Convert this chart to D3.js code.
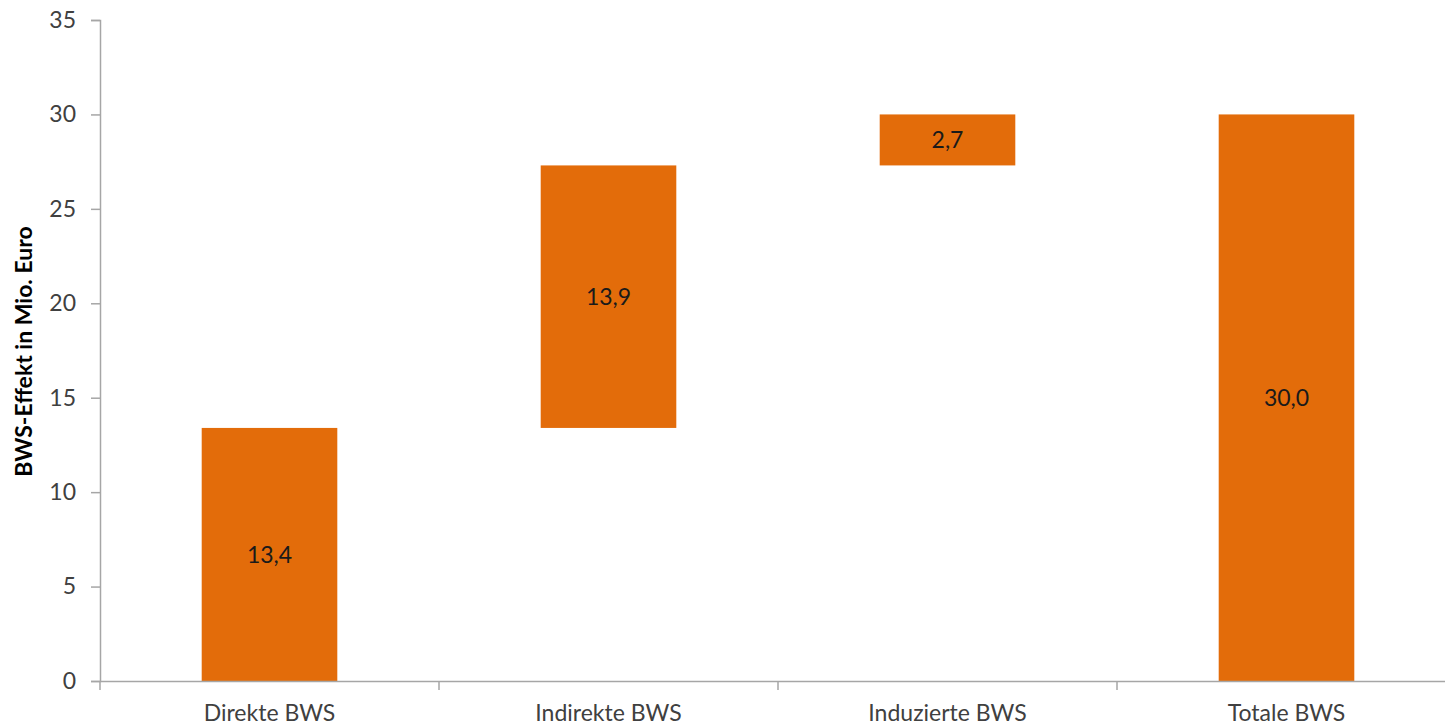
<!DOCTYPE html>
<html>
<head>
<meta charset="utf-8">
<script src="https://cdn.jsdelivr.net/npm/d3@7"></script>
<style>
  body { margin: 0; background: #fff; }
  svg { display: block; font-family: Lato, "Open Sans", sans-serif; }
</style>
</head>
<body>
<svg width="1445" height="728"></svg>
<script>
"use strict";

// waterfall data
var categories = ["Direkte BWS", "Indirekte BWS", "Induzierte BWS", "Totale BWS"];
var values = [13.4, 13.9, 2.7, 30.0];
var isTotal = [false, false, false, true];
var yTicks = [0, 5, 10, 15, 20, 25, 30, 35];
var yTitle = "BWS-Effekt in Mio. Euro";

(function() {
var svg = d3.select("svg");
var plotLeft = 100, plotRight = 1456, plotTop = 20, plotBottom = 681;

// compute floating bars
var bars = [];
var running = 0;
for (let i = 0; i < categories.length; i++) {
    let start = isTotal[i] ? 0 : running;
    let end = isTotal[i] ? values[i] : running + values[i];
    if (!isTotal[i]) running = end;
    bars.push({cat: categories[i], value: values[i], y0: start, y1: end});
}

var x = d3.scaleBand().domain(categories).range([plotLeft, plotRight]).paddingInner(0.6).paddingOuter(0.3);
var xAxisScale = d3.scaleBand().domain(categories).range([plotLeft, plotRight]);
var y = d3.scaleLinear().domain([0, 35]).range([plotBottom, plotTop]);

var axisColor = "#a6a6a6";
var textColor = "#404040";

// bars
svg.append("g").selectAll("rect").data(bars).enter()
   .append("rect")
   .attr("x", function(d) { return x(d.cat); })
   .attr("width", x.bandwidth())
   .attr("y", function(d) { return y(d.y1); })
   .attr("height", function(d) { return y(d.y0) - y(d.y1); })
   .style("fill", "#e36c0a");

// value labels
svg.append("g").selectAll("text").data(bars).enter()
   .append("text")
   .attr("x", function(d) { return x(d.cat) + x.bandwidth() / 2; })
   .attr("y", function(d) { return y((d.y0 + d.y1) / 2); })
   .attr("dy", "0.35em")
   .attr("text-anchor", "middle")
   .style("font-size", "23px")
   .style("fill", "#1a1a1a")
   .text(function(d) { return d3.format(".1f")(d.value).replace(".", ","); });

// y axis
var yAxis = svg.append("g")
   .attr("transform", "translate(" + plotLeft + ",0)")
   .call(d3.axisLeft(y).tickValues(yTicks).tickSize(9).tickPadding(15));
yAxis.select(".domain").attr("stroke", axisColor).attr("stroke-width", 1.5);
yAxis.selectAll(".tick line").attr("stroke", axisColor).attr("stroke-width", 1.5);
yAxis.selectAll(".tick text")
     .style("font-size", "23px")
     .style("font-family", "Lato, sans-serif")
     .attr("fill", textColor);

// x axis
var xAxis = svg.append("g")
   .attr("transform", "translate(0," + plotBottom + ")")
   .call(d3.axisBottom(xAxisScale).tickSize(0).tickPadding(24));
xAxis.select(".domain").attr("stroke", axisColor).attr("stroke-width", 1.5);
xAxis.selectAll(".tick text")
     .style("font-size", "23px")
     .style("font-family", "Lato, sans-serif")
     .attr("fill", textColor);

// category separators on the x axis
var seps = categories.map(function(c) { return xAxisScale(c); });
svg.append("g").selectAll("line").data(seps).enter()
   .append("line")
   .attr("x1", function(d) { return d; })
   .attr("x2", function(d) { return d; })
   .attr("y1", plotBottom)
   .attr("y2", plotBottom + 9)
   .attr("stroke", axisColor)
   .attr("stroke-width", 1.5);

// y axis title
svg.append("text")
   .attr("transform", "translate(32," + ((plotTop + plotBottom) / 2 + 1) + ") rotate(-90)")
   .attr("text-anchor", "middle")
   .style("font-size", "23px")
   .style("font-weight", "bold")
   .style("fill", "#000")
   .text(yTitle);
})();
</script>
</body>
</html>
